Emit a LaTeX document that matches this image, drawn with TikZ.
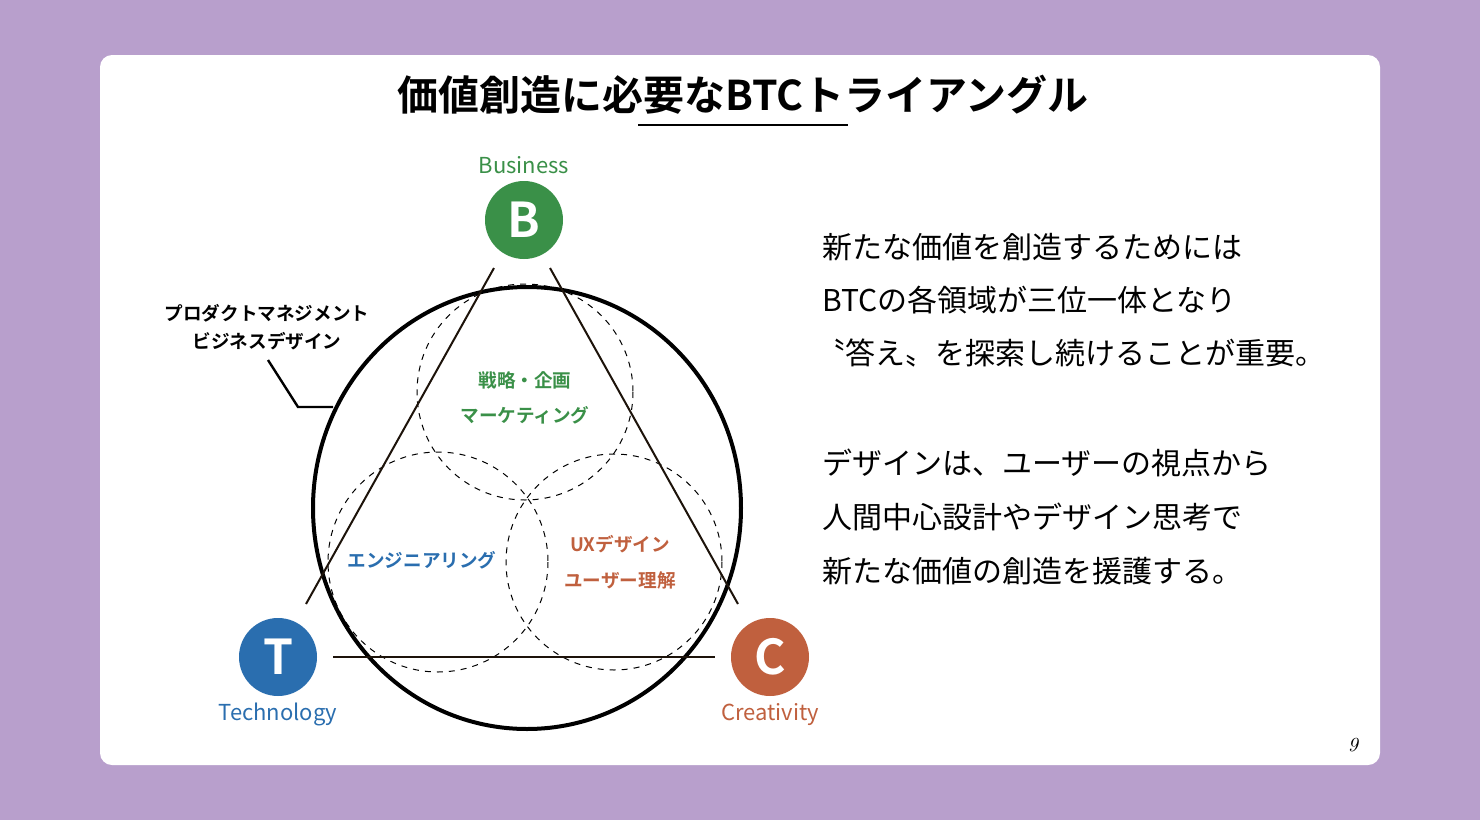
\documentclass[tikz,border=0pt]{standalone}
\usepackage{fontspec}
\usetikzlibrary{positioning}
\setmainfont{Noto Sans CJK JP}
\newfontfamily\jpbold{Noto Sans CJK JP Bold}
\definecolor{bgpurple}{HTML}{B89FCC}
\definecolor{bgreen}{HTML}{3A9048}
\definecolor{tblue}{HTML}{2A6EAF}
\definecolor{corange}{HTML}{C0603E}
\tikzset{
  letternode/.style={circle,minimum size=39pt,inner sep=0pt,text=white,font=\jpbold\fontsize{24}{24}\selectfont},
  areacircle/.style={dashed,line width=0.5pt},
  sideline/.style={line width=1pt,black!85!brown},
  fieldtext/.style={font=\jpbold\fontsize{9.3}{10}\selectfont},
  nametext/.style={font=\fontsize{11}{11}\selectfont},
  bodytext/.style={anchor=west,font=\fontsize{15}{15}\selectfont}
}
\begin{document}
\begin{tikzpicture}[x=0.5pt,y=-0.5pt]
  \fill[bgpurple] (0,0) rectangle (1480,820);
  \fill[white,rounded corners=6pt] (100,55) rectangle (1380,765);

  % title
  \node (title) at (743,95) {\jpbold\fontsize{20.5}{20}\selectfont 価値創造に必要なBTCトライアングル};
  \draw[line width=0.6pt] (638,125) -- (848,125);

  % circles
  \draw[line width=2pt] (527,508) ellipse [x radius=214,y radius=221];
  \draw[areacircle] (525,392) circle [radius=108];
  \draw[areacircle] (438,562) circle [radius=110];
  \draw[areacircle] (614,562) circle [radius=108];

  % triangle
  \draw[sideline] (494,268) -- (306,604);
  \draw[sideline] (550,268) -- (738,604);
  \draw[sideline] (333,657) -- (715,657);

  % corner nodes
  \node[letternode,fill=bgreen] (b) at (524,220) {B};
  \node[letternode,fill=tblue] (t) at (278,657) {T};
  \node[letternode,fill=corange] (c) at (770,657) {C};
  \node[nametext,text=bgreen,above=0pt of b] (bname) {Business};
  \node[nametext,text=tblue,below=0pt of t] (tname) {Technology};
  \node[nametext,text=corange,below=0pt of c] (cname) {Creativity};

  % areas
  \node[fieldtext,text=bgreen] (b1) at (525,380) {戦略・企画};
  \node[fieldtext,text=bgreen] (b2) at (525,415) {マーケティング};
  \node[fieldtext,text=tblue] (t1) at (422,560) {エンジニアリング};
  \node[fieldtext,text=corange] (c1) at (620,544) {UXデザイン};
  \node[fieldtext,text=corange] (c2) at (620,580) {ユーザー理解};

  % outer label
  \node[fieldtext] (pm1) at (267,313) {プロダクトマネジメント};
  \node[fieldtext] (pm2) at (267,341) {ビジネスデザイン};
  \coordinate (lk) at (298,407);
  \coordinate (le) at (333,407);
  \draw[line width=1.2pt] (268,360) -- (lk) -- (le);

  % text
  \node[bodytext] (l1) at (815,247) {新たな価値を創造するためには};
  \node[bodytext] (l2) at (815,300) {BTCの各領域が三位一体となり};
  \node[bodytext] (l3) at (808,353) {〝答え〟を探索し続けることが重要。};
  \node[bodytext] (l4) at (815,463) {デザインは、ユーザーの視点から};
  \node[bodytext] (l5) at (815,517) {人間中心設計やデザイン思考で};
  \node[bodytext] (l6) at (815,571) {新たな価値の創造を援護する。};

  \node (page) at (1353,745) {\fontfamily{lmr}\itshape\fontsize{10}{10}\selectfont 9};
\end{tikzpicture}
\end{document}
